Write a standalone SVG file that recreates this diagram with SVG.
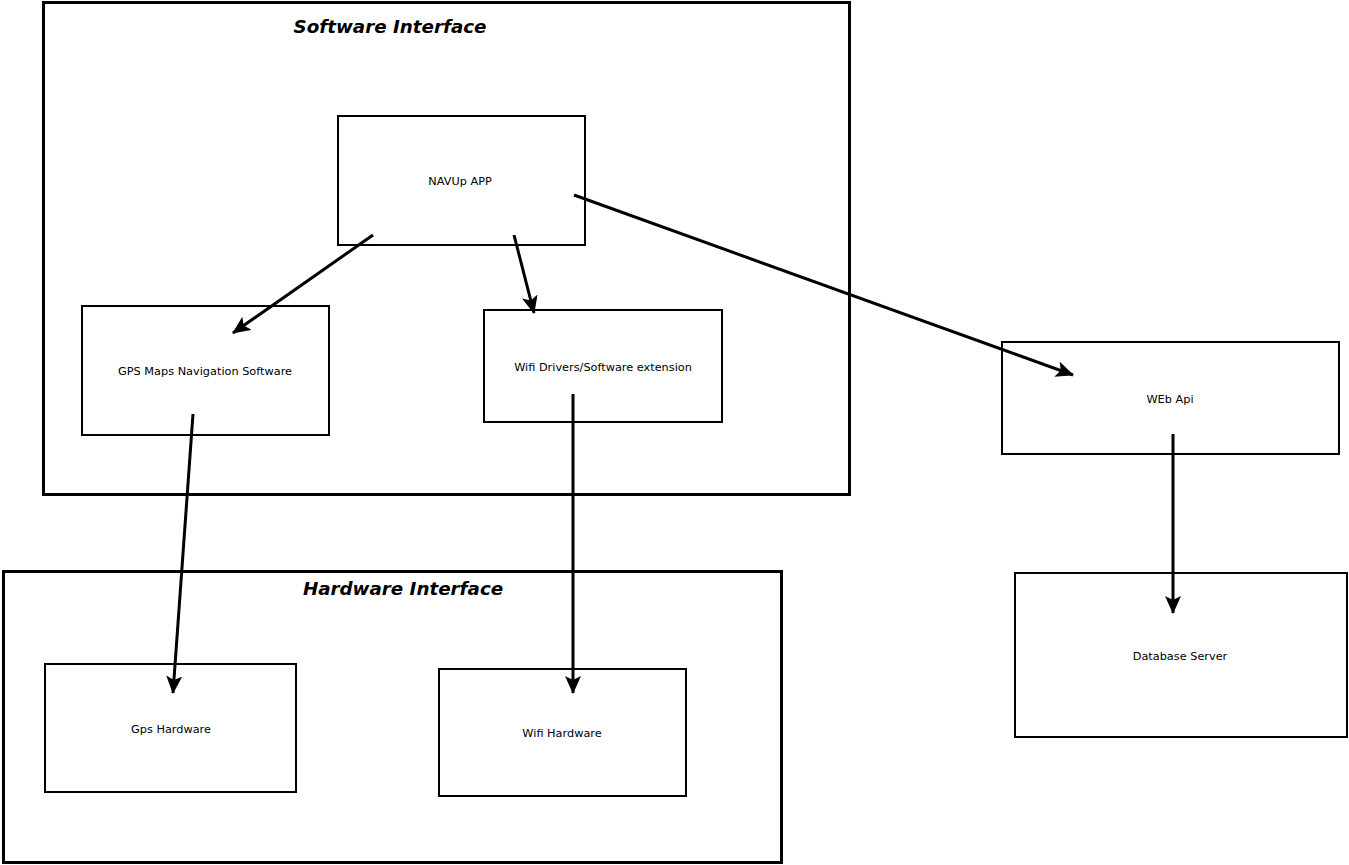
<svg xmlns="http://www.w3.org/2000/svg" width="1349" height="865" viewBox="0 0 1349 865">
<style>
.frame{fill:none;stroke:#000;stroke-width:3}
.box{fill:#fff;stroke:#000;stroke-width:2}
.lbl{font-family:Tahoma,"DejaVu Sans",sans-serif;font-size:11.3px;fill:#000;text-anchor:middle;dominant-baseline:central}
.ttl{font-family:"DejaVu Sans",Verdana,sans-serif;font-size:18.3px;font-weight:bold;font-style:italic;fill:#000;text-anchor:middle;dominant-baseline:central}
.edge{stroke:#000;stroke-width:3;fill:none;marker-end:url(#ah)}
</style>
<defs>
<marker id="ah" markerUnits="userSpaceOnUse" markerWidth="22" markerHeight="18" refX="17" refY="8" orient="auto">
<path d="M0,0 L18,8 L0,16 L4,8 Z" fill="#000"/>
</marker>
</defs>
<rect width="1349" height="865" fill="#fff"/>
<g id="software-interface">
<rect class="frame" x="43.5" y="2.5" width="806" height="492"/>
<text class="ttl" x="390" y="26">Software Interface</text>
</g>
<g id="hardware-interface">
<rect class="frame" x="3.5" y="571.5" width="778" height="291"/>
<text class="ttl" x="403" y="588">Hardware Interface</text>
</g>
<g id="navup-app">
<rect class="box" x="338" y="116" width="247" height="129"/>
<text class="lbl" x="460" y="181">NAVUp APP</text>
</g>
<g id="gps-maps">
<rect class="box" x="82" y="306" width="247" height="129"/>
<text class="lbl" x="205" y="371">GPS Maps Navigation Software</text>
</g>
<g id="wifi-drivers">
<rect class="box" x="484" y="310" width="238" height="112"/>
<text class="lbl" x="603" y="367">Wifi Drivers/Software extension</text>
</g>
<g id="web-api">
<rect class="box" x="1002" y="342" width="337" height="112"/>
<text class="lbl" x="1170" y="399">WEb Api</text>
</g>
<g id="database-server">
<rect class="box" x="1015" y="573" width="332" height="164"/>
<text class="lbl" x="1180" y="656">Database Server</text>
</g>
<g id="gps-hardware">
<rect class="box" x="45" y="664" width="251" height="128"/>
<text class="lbl" x="171" y="729">Gps Hardware</text>
</g>
<g id="wifi-hardware">
<rect class="box" x="439" y="669" width="247" height="127"/>
<text class="lbl" x="562" y="733">Wifi Hardware</text>
</g>
<g id="connectors">
<line class="edge" x1="373" y1="235" x2="233" y2="333"/>
<line class="edge" x1="514" y1="235" x2="534" y2="313"/>
<line class="edge" x1="574" y1="195" x2="1073" y2="375"/>
<line class="edge" x1="193" y1="414" x2="173" y2="693"/>
<line class="edge" x1="573" y1="394" x2="573" y2="693"/>
<line class="edge" x1="1173" y1="434" x2="1173" y2="613"/>
</g>
</svg>
